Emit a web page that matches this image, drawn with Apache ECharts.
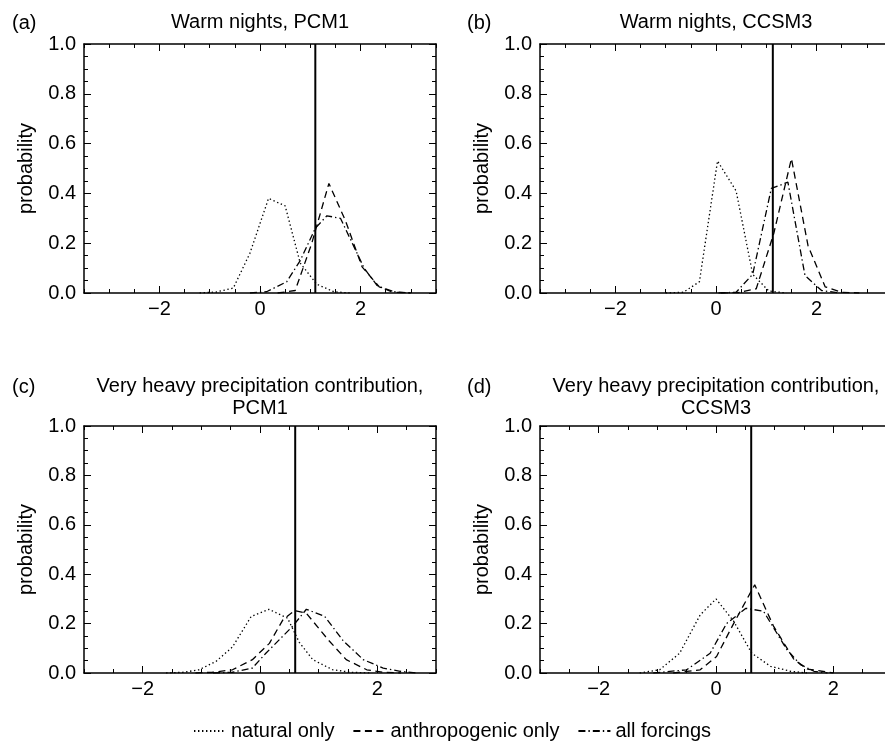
<!DOCTYPE html>
<html><head><meta charset="utf-8">
<script src="https://cdn.jsdelivr.net/npm/echarts@6/dist/echarts.min.js"></script>
<style>html,body{margin:0;padding:0;background:#fff}#c{width:885px;height:747px}</style>
</head><body><div id="c"></div>
<script>
// ---------- DATA ----------
const seriesNames = ['natural only', 'anthropogenic only', 'all forcings'];
const panelTitles = ['Warm nights, PCM1', 'Warm nights, CCSM3',
  'Very heavy precipitation contribution,\nPCM1', 'Very heavy precipitation contribution,\nCCSM3'];
const panelLetters = ['(a)', '(b)', '(c)', '(d)'];
const xMins = [-3.5, -3.5, -3, -3];
const xMaxs = [3.5, 3.5, 3, 3];
const xLabelValues = [-2, 0, 2];
const observedValues = [1.1, 1.13, 0.6, 0.6];

// (a) Warm nights, PCM1
const natX_a = [-1.2, -0.87, -0.53, -0.2, 0.17, 0.5, 0.8, 1.13, 1.47, 1.8];
const natY_a = [0, 0.004, 0.02, 0.16, 0.38, 0.35, 0.12, 0.035, 0.005, 0];
const antX_a = [0.35, 0.7, 1.03, 1.37, 1.7, 2.03, 2.37, 2.7, 3.0];
const antY_a = [0, 0.01, 0.2, 0.44, 0.29, 0.105, 0.025, 0.003, 0];
const allX_a = [-0.2, 0.13, 0.53, 0.8, 1.1, 1.33, 1.6, 2.07, 2.33, 2.6, 3.0];
const allY_a = [0, 0.005, 0.045, 0.13, 0.26, 0.31, 0.30, 0.1, 0.03, 0.006, 0];

// (b) Warm nights, CCSM3
const natX_b = [-1.0, -0.65, -0.33, 0.03, 0.4, 0.73, 1.05, 1.4];
const natY_b = [0, 0.003, 0.045, 0.53, 0.41, 0.075, 0.008, 0];
const antX_b = [0.1, 0.45, 0.8, 1.15, 1.5, 1.83, 2.17, 2.5, 2.85];
const antY_b = [0, 0.002, 0.017, 0.24, 0.54, 0.19, 0.025, 0.003, 0];
const allX_b = [0.05, 0.4, 0.73, 1.1, 1.43, 1.77, 2.1, 2.45];
const allY_b = [0, 0.003, 0.075, 0.42, 0.445, 0.07, 0.01, 0];

// (c) Very heavy precipitation contribution, PCM1
const natX_c = [-1.6, -1.3, -1.04, -0.75, -0.47, -0.15, 0.15, 0.47, 0.67, 0.9, 1.24, 1.55, 1.9];
const natY_c = [0, 0.003, 0.013, 0.047, 0.105, 0.229, 0.258, 0.222, 0.124, 0.054, 0.013, 0.003, 0];
const antX_c = [-1.1, -0.81, -0.47, -0.13, 0.16, 0.39, 0.59, 0.79, 1.16, 1.47, 1.82, 2.1, 2.4];
const antY_c = [0, 0.003, 0.013, 0.054, 0.12, 0.215, 0.253, 0.242, 0.135, 0.054, 0.013, 0.003, 0];
const allX_c = [-0.8, -0.47, -0.13, 0.1, 0.56, 0.79, 1.1, 1.42, 1.76, 2.1, 2.39, 2.68];
const allY_c = [0, 0.003, 0.02, 0.08, 0.19, 0.258, 0.23, 0.13, 0.054, 0.02, 0.007, 0];

// (d) Very heavy precipitation contribution, CCSM3
const natX_d = [-1.3, -0.96, -0.62, -0.27, 0.0, 0.3, 0.61, 0.93, 1.27, 1.56];
const natY_d = [0, 0.013, 0.08, 0.235, 0.30, 0.21, 0.08, 0.027, 0.007, 0];
const antX_d = [-0.73, -0.27, 0.01, 0.3, 0.66, 0.98, 1.33, 1.56, 2.0];
const antY_d = [0, 0.013, 0.067, 0.2, 0.357, 0.19, 0.054, 0.016, 0];
const allX_d = [-1.07, -0.5, -0.1, 0.18, 0.51, 0.81, 1.21, 1.44, 1.67, 1.9];
const allY_d = [0, 0.013, 0.08, 0.2, 0.262, 0.25, 0.094, 0.034, 0.007, 0];

const panelData = [
  [[natX_a, natY_a], [antX_a, antY_a], [allX_a, allY_a]],
  [[natX_b, natY_b], [antX_b, antY_b], [allX_b, allY_b]],
  [[natX_c, natY_c], [antX_c, antY_c], [allX_c, allY_c]],
  [[natX_d, natY_d], [antX_d, antY_d], [allX_d, allY_d]]
];

// ---------- STYLE / LAYOUT ----------
const FONT = 'Liberation Sans, Arial, Helvetica, sans-serif';
const gridRects = [
  {left: 84, top: 44, width: 352, height: 249},
  {left: 540, top: 44, width: 352, height: 249},
  {left: 84, top: 426, width: 352, height: 247},
  {left: 540, top: 426, width: 352, height: 247}
];
const titlePos = [[260, 22], [716, 22], [260, 397], [716, 397]];
const letterPos = [[12, 23], [467, 23], [12, 387], [467, 387]];
const dashTypes = [[1.4, 2.6], [7, 4.5], [7, 3, 1.4, 3]];

function zip(xs, ys) { return xs.map((x, i) => [x, ys[i]]); }
function fmtX(v) {
  const r = Math.round(v);
  if (Math.abs(v - r) > 1e-6 || r % 2 !== 0) return '';
  return r < 0 ? '\u2212' + (-r) : String(r);
}

const grid = [], xAxis = [], yAxis = [], series = [], title = [];
const black = '#000';
const lineAx = {show: true, onZero: false, lineStyle: {color: black, width: 1.5}};

panelData.forEach((pd, p) => {
  grid.push(Object.assign({containLabel: false, outerBoundsMode: 'none'}, gridRects[p]));
  const base = {type: 'value', gridIndex: p, min: xMins[p], max: xMaxs[p], splitLine: {show: false}};
  xAxis.push(Object.assign({}, base, {
    position: 'bottom', interval: 0.5, axisLine: lineAx,
    axisTick: {show: true, inside: true, length: 4, lineStyle: {color: black, width: 1}},
    axisLabel: {show: true, formatter: fmtX, margin: 6, fontSize: 20, fontFamily: FONT, color: black,
      showMinLabel: true, showMaxLabel: true}
  }));
  xAxis.push(Object.assign({}, base, {
    position: 'bottom', interval: 0.5, axisLine: {show: false, onZero: false},
    axisTick: {show: true, inside: true, length: 7, customValues: xLabelValues, lineStyle: {color: black, width: 1}},
    axisLabel: {show: false}
  }));
  xAxis.push(Object.assign({}, base, {
    position: 'top', interval: 0.5, axisLine: lineAx,
    axisTick: {show: true, inside: true, length: 4, lineStyle: {color: black, width: 1}},
    axisLabel: {show: false}
  }));
  xAxis.push(Object.assign({}, base, {
    position: 'top', interval: 0.5, axisLine: {show: false, onZero: false},
    axisTick: {show: true, inside: true, length: 7, customValues: xLabelValues, lineStyle: {color: black, width: 1}},
    axisLabel: {show: false}
  }));
  const ybase = {type: 'value', gridIndex: p, min: 0, max: 1, interval: 0.2, splitLine: {show: false},
    axisLine: lineAx,
    axisTick: {show: true, inside: true, length: 7, lineStyle: {color: black, width: 1}},
    minorTick: {show: true, splitNumber: 4, length: 4, lineStyle: {color: black, width: 1}},
    minorSplitLine: {show: false}};
  yAxis.push(Object.assign({}, ybase, {
    position: 'left', name: 'probability', nameLocation: 'middle', nameGap: 48,
    nameTextStyle: {fontSize: 20, fontFamily: FONT, color: black},
    axisLabel: {show: true, formatter: v => v.toFixed(1), margin: 8, fontSize: 20, fontFamily: FONT, color: black}
  }));
  yAxis.push(Object.assign({}, ybase, {position: 'right', axisLabel: {show: false}}));

  pd.forEach((xy, k) => {
    series.push({
      name: seriesNames[k], type: 'line', xAxisIndex: 4 * p, yAxisIndex: 2 * p,
      data: zip(xy[0], xy[1]), symbol: 'none', showSymbol: false, smooth: false,
      lineStyle: {color: black, width: 1.3, type: dashTypes[k]}, itemStyle: {color: black},
      silent: true, animation: false, z: 3
    });
  });
  series.push({
    name: 'observed', type: 'line', xAxisIndex: 4 * p, yAxisIndex: 2 * p,
    data: [[observedValues[p], 0], [observedValues[p], 1]], symbol: 'none',
    lineStyle: {color: black, width: 2, type: 'solid'}, silent: true, animation: false, z: 4
  });

  title.push({
    text: panelTitles[p], left: titlePos[p][0], top: titlePos[p][1], padding: 0,
    textAlign: 'center', textVerticalAlign: 'middle',
    textStyle: {fontSize: 20, fontWeight: 'normal', fontFamily: FONT, color: black, lineHeight: 22}
  });
  title.push({
    text: panelLetters[p], left: letterPos[p][0], top: letterPos[p][1], padding: 0,
    textAlign: 'left', textVerticalAlign: 'middle',
    textStyle: {fontSize: 20, fontWeight: 'normal', fontFamily: FONT, color: black}
  });
});

const chart = echarts.init(document.getElementById('c'), null, {renderer: 'canvas'});
chart.setOption({
  animation: false,
  backgroundColor: '#fff',
  textStyle: {fontFamily: FONT, color: black},
  title: title,
  grid: grid,
  xAxis: xAxis,
  yAxis: yAxis,
  legend: {
    data: seriesNames, left: 193, top: 721, padding: 0,
    itemWidth: 32, itemHeight: 14, itemGap: 18, selectedMode: false,
    itemStyle: {opacity: 0, borderWidth: 0},
    textStyle: {fontSize: 20, fontFamily: FONT, color: black}
  },
  series: series
});
</script></body></html>
